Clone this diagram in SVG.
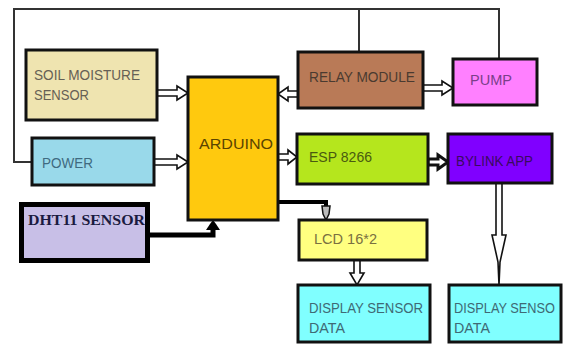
<svg xmlns="http://www.w3.org/2000/svg" width="563" height="345" viewBox="0 0 563 345">
<style>
.box{stroke:#111;stroke-width:3}
.t{font-family:"Liberation Sans",Arial,sans-serif;font-size:14px}
.ha{fill:#fff;stroke:#111;stroke-width:1.6;stroke-linejoin:miter}
.ln{fill:none;stroke:#333;stroke-width:2}
</style>
<rect width="563" height="345" fill="#fff"/>
<g id="connectors">
<polyline class="ln" points="32,162 14,162 14,9 499,9 499,59"/>
<line class="ln" x1="359" y1="9" x2="359" y2="52"/>
<polygon class="ha" points="157,90 177,90 177,86 188,93 177,100 177,96 157,96"/>
<polygon class="ha" points="154,159 177,159 177,155 188,162 177,169 177,165 154,165"/>
<polygon class="ha" points="298,91 288,91 288,87 278,94 288,101 288,97 298,97"/>
<polygon class="ha" points="278,154 288,154 288,150 297,157 288,164 288,160 278,160"/>
<polygon class="ha" style="stroke-width:3" points="428,159 438,159 438,155 448,162 438,169 438,165 428,165"/>
<polygon class="ha" points="423,85 442,85 442,81 453,88 442,95 442,91 423,91"/>
<polygon class="ha" points="354,260 360,260 360,273 364,273 357,285 350,273 354,273"/>
<polygon class="ha" points="496,183 502,183 502,235 506,235 500,262 499,285 498,262 492,235 496,235"/>
<polyline fill="none" stroke="#000" stroke-width="4" points="278,202 326,202 326,210"/>
<polygon fill="#bbb" stroke="#111" stroke-width="1.5" points="322,206 330,206 329,214 326,220 323,214"/>
<polyline fill="none" stroke="#000" stroke-width="5" points="150,235 213,235 213,228"/>
<polygon fill="#000" points="206,230 220,230 216,224 213,220 210,224"/>
</g>
<g id="soil">
<rect class="box" x="26" y="50" width="131" height="70" fill="#EFE4B0"/>
<text class="t" x="34" y="80" fill="#666055" textLength="106" lengthAdjust="spacingAndGlyphs">SOIL MOISTURE</text>
<text class="t" x="34" y="100" fill="#666055" textLength="55" lengthAdjust="spacingAndGlyphs">SENSOR</text>
</g>
<g id="power">
<rect class="box" x="32" y="138" width="122" height="47" fill="#99D9EA"/>
<text class="t" x="42" y="168" fill="#3f6a80" textLength="51" lengthAdjust="spacingAndGlyphs">POWER</text>
</g>
<g id="arduino">
<rect class="box" x="188" y="77" width="90" height="143" fill="#FFC90E"/>
<text class="t" x="199" y="149" fill="#5a4400" font-size="16" textLength="74" lengthAdjust="spacingAndGlyphs">ARDUINO</text>
</g>
<g id="dht11">
<rect x="21.5" y="204.5" width="126" height="56" fill="#C8BFE7" stroke="#000" stroke-width="5"/>
<text x="28" y="225" font-family="'Liberation Serif','Times New Roman',serif" font-weight="bold" font-size="14" fill="#1a1a40" textLength="117" lengthAdjust="spacingAndGlyphs">DHT11 SENSOR</text>
</g>
<g id="relay">
<rect class="box" x="298" y="52" width="125" height="56" fill="#B97A57"/>
<text class="t" x="309" y="82" fill="#4a3a30" textLength="106" lengthAdjust="spacingAndGlyphs">RELAY MODULE</text>
</g>
<g id="pump">
<rect class="box" x="453" y="59" width="84" height="46" fill="#FF80FF"/>
<text class="t" x="470" y="85" fill="#7a3f8a" textLength="42" lengthAdjust="spacingAndGlyphs">PUMP</text>
</g>
<g id="esp">
<rect class="box" x="297" y="134" width="131" height="50" fill="#B5E61D"/>
<text class="t" x="309" y="162" fill="#4a5a10" textLength="63" lengthAdjust="spacingAndGlyphs">ESP 8266</text>
</g>
<g id="bylink">
<rect class="box" x="448" y="134" width="104" height="49" fill="#8000FF"/>
<text class="t" x="456" y="166" fill="#3a0a60" textLength="77" lengthAdjust="spacingAndGlyphs">BYLINK APP</text>
</g>
<g id="lcd">
<rect class="box" x="299" y="220" width="128" height="40" fill="#FFFF80"/>
<text class="t" x="314" y="244" fill="#7a7040" textLength="63" lengthAdjust="spacingAndGlyphs">LCD 16*2</text>
</g>
<g id="display1">
<rect class="box" x="298" y="285" width="132" height="57" fill="#80FFFF"/>
<text class="t" x="309" y="313" fill="#3f6a75" textLength="114" lengthAdjust="spacingAndGlyphs">DISPLAY SENSOR</text>
<text class="t" x="309" y="333" fill="#3f6a75" textLength="36" lengthAdjust="spacingAndGlyphs">DATA</text>
</g>
<g id="display2">
<rect class="box" x="449" y="285" width="112" height="57" fill="#80FFFF"/>
<text class="t" x="454" y="313" fill="#3f6a75" textLength="101" lengthAdjust="spacingAndGlyphs">DISPLAY SENSO</text>
<text class="t" x="454" y="333" fill="#3f6a75" textLength="36" lengthAdjust="spacingAndGlyphs">DATA</text>
</g>
</svg>
